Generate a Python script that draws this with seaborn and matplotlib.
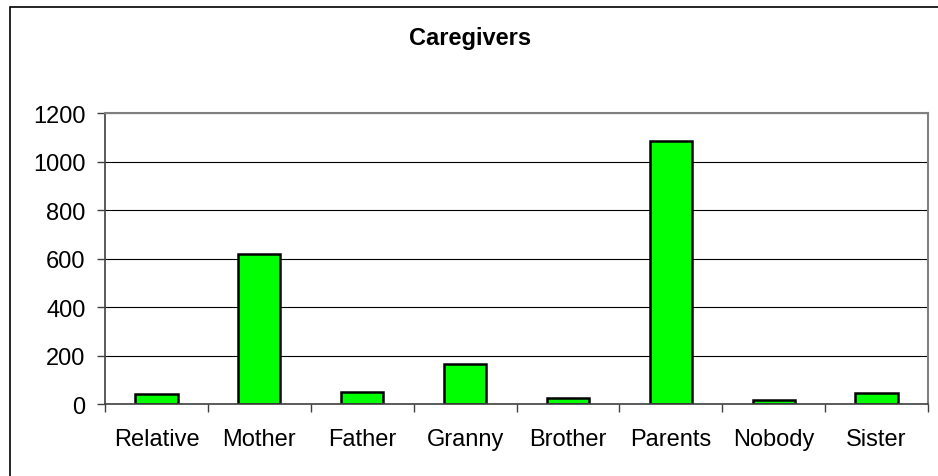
import matplotlib
matplotlib.use("Agg")
import matplotlib.pyplot as plt
import matplotlib.ticker as mticker
from matplotlib.patches import Rectangle
import seaborn as sns
import pandas as pd

# 数据
categories = ["Relative", "Mother", "Father", "Granny", "Brother", "Parents", "Nobody", "Sister"]
counts = [43, 621, 51, 164, 26, 1085, 16, 47]
y_ticks = [0, 200, 400, 600, 800, 1000, 1200]

sns.set_style("white")
plt.rcParams["font.family"] = ["Liberation Sans", "DejaVu Sans"]
plt.rcParams["text.color"] = "black"
plt.rcParams["xtick.color"] = "black"
plt.rcParams["ytick.color"] = "black"

df = pd.DataFrame({"who": categories, "n": counts})

fig = plt.figure(figsize=(9.38, 4.77), dpi=100)
ax = fig.add_axes([105 / 938, 1 - 405 / 477, 823 / 938, (405 - 114.3) / 477])

sns.barplot(data=df, x="who", y="n", color="#00FF00", edgecolor="black",
            linewidth=1.8, width=0.41, saturation=1, ax=ax)

ax.set_ylim(0, 1200)
ax.set_xlim(-0.5, len(categories) - 0.5)
ax.set_yticks(y_ticks)
ax.set_xlabel("")
ax.set_ylabel("")

# 网格线
ax.set_axisbelow(True)
ax.yaxis.grid(True, color="black", linewidth=0.8)
ax.xaxis.grid(False)

# 坐标轴边框
for side in ["left", "bottom"]:
    ax.spines[side].set_color("#404040")
    ax.spines[side].set_linewidth(1.2)
for side in ["top", "right"]:
    ax.spines[side].set_visible(True)
    ax.spines[side].set_color("#808080")
    ax.spines[side].set_linewidth(1.5)

# x 轴刻度在类别之间
ax.xaxis.set_minor_locator(mticker.FixedLocator([i - 0.5 for i in range(len(categories) + 1)]))
ax.tick_params(axis="x", which="major", length=0, pad=17, labelsize=17, labelcolor="black")
ax.tick_params(axis="x", which="minor", length=6, width=1, color="#404040", direction="out", bottom=True)
ax.tick_params(axis="y", which="major", length=6, width=1, color="#404040", direction="out",
               left=True, pad=8, labelsize=17, labelcolor="black")

fig.text(470 / 938, 1 - 39 / 477, "Caregivers", ha="center", va="center",
         fontsize=17, fontweight="bold", color="black")

# 外框
fig.patches.append(Rectangle((9.5 / 938, -0.2), 2, 1 - 7.5 / 477 + 0.2,
                             transform=fig.transFigure, fill=False,
                             edgecolor="black", linewidth=1.2))

fig.savefig("out.png", dpi=100)
plt.close(fig)
